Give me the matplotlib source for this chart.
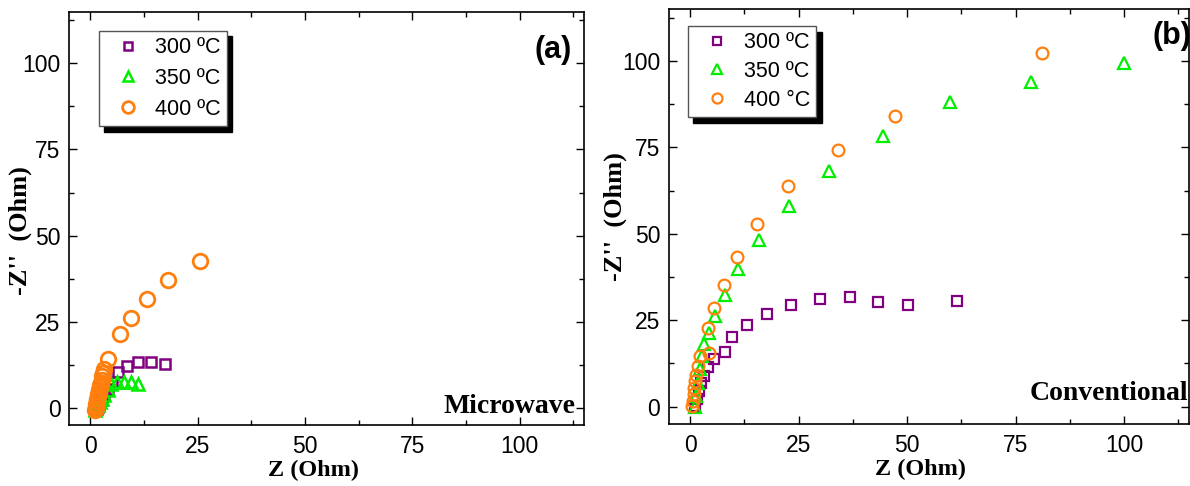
"""
Nyquist plots: microwave vs conventional annealing.
"""
import matplotlib
matplotlib.use("Agg")
import matplotlib.pyplot as plt
from matplotlib.ticker import MultipleLocator

# ---- (a) Microwave ----
mw_300_x = [1.6, 1.8, 2.1, 2.6, 3.2, 4.0, 5.0, 6.4, 8.4, 11.1, 14.0, 17.3]
mw_300_y = [-0.3, 0.3, 1.2, 2.4, 3.8, 5.5, 7.5, 10.3, 12.0, 13.2, 13.3, 12.7]

mw_350_x = [1.0, 1.4, 1.8, 2.3, 2.8, 3.2, 4.0, 4.9, 6.3, 7.8, 9.4, 11.1]
mw_350_y = [-0.5, 0.2, 0.9, 1.7, 2.6, 3.8, 5.3, 7.0, 7.4, 7.4, 7.4, 7.0]

mw_400_x = [1.1, 1.2, 1.3, 1.4, 1.5, 1.6, 1.7, 1.8, 1.9, 2.0, 2.2, 2.3, 2.4,
            2.6, 2.8, 3.0, 3.2, 4.1, 6.9, 9.4, 13.1, 18.0, 25.5]
mw_400_y = [-0.5, 0.0, 0.5, 1.2, 1.9, 2.6, 3.3, 4.0, 4.7, 5.3, 6.0, 6.6, 7.2,
            8.1, 9.1, 10.1, 11.2, 14.2, 21.3, 26.0, 31.6, 37.0, 42.5]

# ---- (b) Conventional ----
cv_300_x = [1.2, 1.5, 2.0, 2.5, 3.2, 4.2, 5.5, 8.0, 9.7, 13.2, 17.8, 23.3,
            29.9, 36.8, 43.2, 50.3, 61.4]
cv_300_y = [0.2, 2.1, 4.5, 6.9, 9.0, 11.5, 13.9, 15.9, 20.1, 23.5, 26.9, 29.5,
            31.2, 31.7, 30.2, 29.5, 30.7]

cv_350_x = [1.1, 1.4, 1.7, 2.2, 2.7, 3.2, 4.3, 5.7, 8.0, 11.1, 15.9, 22.7,
            32.0, 44.4, 60.0, 78.6, 100.0]
cv_350_y = [0.0, 3.1, 6.9, 10.8, 14.6, 18.0, 21.3, 26.3, 32.4, 39.8, 48.3, 57.9,
            68.3, 78.3, 88.0, 94.0, 99.3]

cv_400_x = [0.45, 0.6, 0.8, 0.9, 1.1, 1.4, 1.7, 2.3, 4.4, 4.2, 5.6, 7.8, 10.9,
            15.5, 22.6, 34.0, 47.2, 81.2]
cv_400_y = [0.2, 1.6, 3.6, 5.5, 7.4, 9.3, 11.7, 14.6, 15.6, 22.7, 28.4, 35.1,
            43.2, 52.8, 63.7, 74.1, 84.1, 102.2]

PURPLE = "#800080"
GREEN = "#00ee00"
ORANGE = "#ff7f0e"

plt.rcParams["font.family"] = ["Liberation Sans", "DejaVu Sans"]

fig = plt.figure(figsize=(11.9, 4.86), dpi=100)
ax1 = fig.add_axes([69 / 1190, 1 - 425 / 486, (584 - 69) / 1190, (425 - 11.7) / 486])
ax2 = fig.add_axes([668.5 / 1190, 1 - 424 / 486, (1189 - 668.5) / 1190, (424 - 9) / 486])


def style_axes(ax):
    ax.set_xlim(-5, 115)
    ax.set_ylim(-5, 115)
    ax.xaxis.set_major_locator(MultipleLocator(25))
    ax.xaxis.set_minor_locator(MultipleLocator(12.5))
    ax.yaxis.set_major_locator(MultipleLocator(25))
    ax.yaxis.set_minor_locator(MultipleLocator(12.5))
    ax.tick_params(which="both", direction="in", top=True, right=True,
                   labelsize=16.5, width=1.0)
    ax.tick_params(which="major", length=6)
    ax.tick_params(which="minor", length=3.5)
    ax.tick_params(axis="y", pad=6)
    ax.tick_params(axis="x", pad=7)
    for s in ax.spines.values():
        s.set_linewidth(1.2)
    ax.set_xlabel("Z (Ohm)", family="Liberation Serif", fontweight="bold",
                  fontsize=17.5)
    ax.set_ylabel("-Z''  (Ohm)", family="Liberation Serif", fontweight="bold",
                  fontsize=19)


def legend(ax, labels, loc, ms_scale, spacing):
    leg = ax.legend(labels, loc="upper left", bbox_to_anchor=loc, fontsize=15.5,
                    frameon=True, fancybox=False, markerscale=ms_scale,
                    handletextpad=0.15, labelspacing=spacing, borderpad=0.3,
                    handlelength=2.15, borderaxespad=0,
                    shadow={"ox": 4, "oy": -4, "facecolor": "black",
                            "edgecolor": "black", "alpha": 1})
    leg.get_frame().set_edgecolor("#555555")
    leg.get_frame().set_linewidth(1.0)
    return leg


# (a)
ax1.plot(mw_300_x, mw_300_y, "s", ms=7.5, mfc="none", mec=PURPLE, mew=1.8)
ax1.plot(mw_350_x, mw_350_y, "^", ms=9, mfc="none", mec=GREEN, mew=1.8)
ax1.plot(mw_400_x, mw_400_y, "o", ms=10.5, mfc="none", mec=ORANGE, mew=2.0)
style_axes(ax1)
ax1.xaxis.set_label_coords(0.475, -0.085)
ax1.yaxis.set_label_coords(-0.072, 0.47)
legend(ax1, ["300 ºC", "350 ºC", "400 ºC"], (0.058, 0.954), 0.8, 0.45)
ax1.text(0.984, 0.029, "Microwave", transform=ax1.transAxes, ha="right",
         va="baseline", family="Liberation Serif", fontweight="bold", fontsize=20)
ax1.text(0.976, 0.907, "(a)", transform=ax1.transAxes, ha="right", va="center",
         fontweight="bold", fontsize=22)

# (b)
ax2.plot(cv_300_x, cv_300_y, "s", ms=7, mfc="none", mec=PURPLE, mew=1.6)
ax2.plot(cv_350_x, cv_350_y, "^", ms=9, mfc="none", mec=GREEN, mew=1.6)
ax2.plot(cv_400_x, cv_400_y, "o", ms=8.5, mfc="none", mec=ORANGE, mew=1.6)
style_axes(ax2)
ax2.xaxis.set_label_coords(0.485, -0.085)
ax2.yaxis.set_label_coords(-0.08, 0.5)
legend(ax2, ["300 ºC", "350 ºC", "400 °C"], (0.037, 0.959), 0.85, 0.35)
ax2.text(0.998, 0.058, "Conventional", transform=ax2.transAxes, ha="right",
         va="baseline", family="Liberation Serif", fontweight="bold", fontsize=20)
ax2.text(0.967, 0.936, "(b)", transform=ax2.transAxes, ha="center", va="center",
         fontweight="bold", fontsize=22)

fig.savefig("out.png", dpi=100)
